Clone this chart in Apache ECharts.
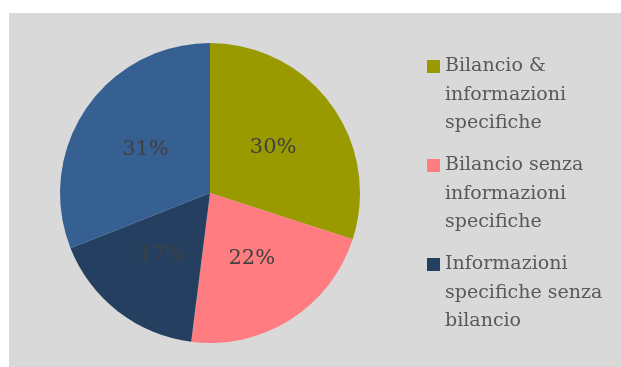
<!DOCTYPE html>
<html>
<head>
<meta charset="utf-8">
<script src="https://cdn.jsdelivr.net/npm/echarts@6/dist/echarts.min.js"></script>
<style>
  html, body { margin: 0; padding: 0; background: #ffffff; }
  #chart { width: 621px; height: 367px; }
</style>
</head>
<body>
<div id="chart"></div>
<script>
// Share of documents by type of disclosure
const categories = [
  'Bilancio &\ninformazioni\nspecifiche',
  'Bilancio senza\ninformazioni\nspecifiche',
  'Informazioni\nspecifiche senza\nbilancio',
  ''
];
const shares = [30, 22, 17, 31];
const sliceColors = ['#999900', '#ff7c80', '#243f60', '#366092'];

const FONT = '"DejaVu Serif", "Liberation Serif", serif';

// Legend marker: a square at the top of a tall box so it sits beside the first text line
const LINE_H = 28.5;
const ITEM_H = LINE_H * 3;
const markerIcon = 'path://M0,0 M0,8 L13,8 L13,21 L0,21 Z M0,' + ITEM_H;

const chart = echarts.init(document.getElementById('chart'), null, { renderer: 'canvas' });

chart.setOption({
  backgroundColor: '#ffffff',
  animation: false,
  graphic: [{
    type: 'rect',
    z: -10,
    shape: { x: 9, y: 13, width: 612, height: 354 },
    style: { fill: '#d9d9d9' }
  }],
  legend: {
    orient: 'vertical',
    left: 422,
    top: 47,
    itemWidth: 13,
    itemHeight: ITEM_H,
    itemGap: 13.5,
    icon: markerIcon,
    data: categories.slice(0, 3),
    selectedMode: false,
    textStyle: {
      fontFamily: FONT,
      fontSize: 19,
      lineHeight: LINE_H,
      color: '#595959'
    }
  },
  series: [{
    type: 'pie',
    center: [210, 193],
    radius: [0, 150],
    startAngle: 90,
    clockwise: true,
    avoidLabelOverlap: false,
    data: shares.map((v, i) => ({
      name: categories[i],
      value: v,
      itemStyle: { color: sliceColors[i] }
    })),
    label: {
      show: true,
      position: 'inside',
      formatter: '{d}%',
      fontFamily: FONT,
      fontSize: 21,
      color: '#404040'
    },
    labelLine: { show: false },
    emphasis: { disabled: true }
  }]
});
</script>
</body>
</html>
